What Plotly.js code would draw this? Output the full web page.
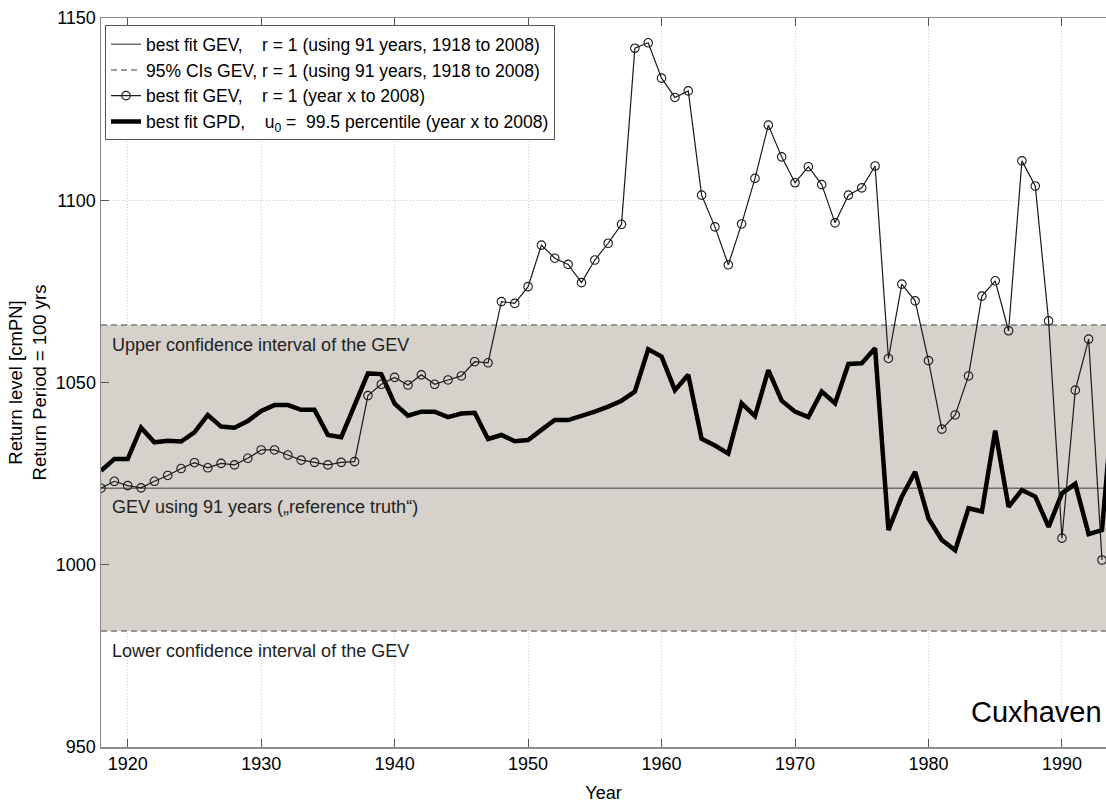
<!DOCTYPE html>
<html>
<head>
<meta charset="utf-8">
<script src="https://cdn.plot.ly/plotly-3.0.1.min.js"></script>
<style>html,body{margin:0;padding:0;background:#fff;}#chart{width:1106px;height:803px;}</style>
</head>
<body>
<div id="chart"></div>
<script>
// Years for the "year x to 2008" GEV fit (circles)
const yearsGEV = [1918,1919,1920,1921,1922,1923,1924,1925,1926,1927,1928,1929,1930,1931,1932,1933,1934,1935,1936,1937,
  1938,1939,1940,1941,1942,1943,1944,1945,1946,1947,1948,1949,1950,1951,1952,1953,1954,1955,1956,1957,
  1958,1959,1960,1961,1962,1963,1964,1965,1966,1967,1968,1969,1970,1971,1972,1973,1974,1975,1976,1977,
  1978,1979,1980,1981,1982,1983,1984,1985,1986,1987,1988,1989,1990,1991,1992,1993];
const gevYearX = [1021.0,1022.9,1021.7,1021.1,1022.9,1024.5,1026.4,1028.0,1026.6,1027.8,1027.4,1029.2,1031.5,1031.5,1030.1,1028.7,1028.1,1027.4,1028.1,1028.3,
  1046.4,1049.5,1051.4,1049.3,1052.1,1049.5,1050.7,1051.8,1055.7,1055.4,1072.2,1071.7,1076.3,1087.7,1084.1,1082.4,1077.4,1083.6,1088.2,1093.4,
  1141.7,1143.2,1133.5,1128.2,1130.0,1101.4,1092.7,1082.3,1093.5,1106.0,1120.6,1111.9,1104.8,1109.2,1104.3,1093.8,1101.4,1103.4,1109.4,1056.6,
  1077.0,1072.4,1056.0,1037.2,1041.1,1051.8,1073.7,1077.9,1064.2,1110.8,1103.9,1066.9,1007.3,1047.9,1061.9,1001.3];

// Years for the GPD fit (thick line)
const yearsGPD = [1918,1919,1920,1921,1922,1923,1924,1925,1926,1927,1928,1929,1930,1931,1932,1933,1934,1935,1936,1937,
  1938,1939,1940,1941,1942,1943,1944,1945,1946,1947,1948,1949,1950,1951,1952,1953,1954,1955,1956,1957,
  1958,1959,1960,1961,1962,1963,1964,1965,1966,1967,1968,1969,1970,1971,1972,1973,1974,1975,1976,1977,
  1978,1979,1980,1981,1982,1983,1984,1985,1986,1987,1988,1989,1990,1991,1992,1993,1994];
const gpdYearX = [1025.8,1029.0,1029.0,1037.6,1033.6,1034.0,1033.8,1036.3,1041.1,1037.9,1037.6,1039.4,1042.2,1043.8,1043.8,1042.5,1042.5,1035.6,1035.0,1043.4,
  1052.5,1052.3,1044.2,1040.9,1042.0,1042.0,1040.5,1041.5,1041.7,1034.5,1035.6,1033.9,1034.2,1037.0,1039.7,1039.7,1040.8,1042.0,1043.4,1045.0,
  1047.5,1059.1,1057.1,1047.9,1052.1,1034.6,1032.7,1030.5,1044.3,1040.8,1053.4,1045.0,1042.0,1040.5,1047.5,1044.3,1055.1,1055.3,1059.4,1009.5,
  1018.7,1025.5,1012.7,1006.8,1004.0,1015.5,1014.6,1036.8,1015.9,1020.5,1018.7,1010.4,1019.6,1022.2,1008.4,1009.5,1052.0];

// GEV using all 91 years (reference truth) and its 95% confidence limits
const gevAll = 1021.0;
const ciUpper = 1065.8;
const ciLower = 981.8;

const xTicks = [1920,1930,1940,1950,1960,1970,1980,1990];
const yTicks = [950,1000,1050,1100,1150];

const legendNames = [
  'best fit GEV,\u00a0\u00a0\u00a0\u00a0r = 1 (using 91 years, 1918 to 2008)',
  '95% CIs GEV, r = 1 (using 91 years, 1918 to 2008)',
  'best fit GEV,\u00a0\u00a0\u00a0\u00a0r = 1 (year x to 2008)',
  'best fit GPD,\u00a0\u00a0\u00a0\u00a0u<sub>0</sub> =\u00a0\u00a099.5 percentile (year x to 2008)'
];

const x0 = yearsGPD[0], x1 = yearsGPD[yearsGPD.length - 1];
const FONT = 'Liberation Sans, Arial, Helvetica, sans-serif';

const traces = [
  { // shaded confidence band
    x: [x0, x1, x1, x0], y: [ciLower, ciLower, ciUpper, ciUpper],
    type: 'scatter', mode: 'lines', fill: 'toself', fillcolor: '#d6d2cb',
    line: {width: 0}, showlegend: false, hoverinfo: 'skip'
  },
  {
    x: [x0, x1], y: [gevAll, gevAll], type: 'scatter', mode: 'lines',
    line: {color: '#6f6f6f', width: 1.5}, name: legendNames[0], legendrank: 1
  },
  {
    x: [x0, x1], y: [ciUpper, ciUpper], type: 'scatter', mode: 'lines',
    line: {color: '#7a7a7a', width: 1.5, dash: '6px,4px'}, name: legendNames[1], legendrank: 2
  },
  {
    x: [x0, x1], y: [ciLower, ciLower], type: 'scatter', mode: 'lines',
    line: {color: '#7a7a7a', width: 1.5, dash: '6px,4px'}, showlegend: false
  },
  {
    x: yearsGPD, y: gpdYearX, type: 'scatter', mode: 'lines',
    line: {color: '#000', width: 4.5}, name: legendNames[3], legendrank: 4
  },
  {
    x: yearsGEV, y: gevYearX, type: 'scatter', mode: 'lines+markers',
    line: {color: '#1a1a1a', width: 1.2},
    marker: {symbol: 'circle-open', size: 8.5, color: '#1a1a1a', line: {width: 1.1}},
    name: legendNames[2], legendrank: 3
  }
];

const layout = {
  width: 1106, height: 803,
  margin: {l: 101, r: 0, t: 18, b: 56},
  paper_bgcolor: '#fff', plot_bgcolor: '#fff',
  font: {family: FONT, size: 18, color: '#000'},
  showlegend: true,
  legend: {
    x: 0.004, y: 0.99, xanchor: 'left', yanchor: 'top',
    bgcolor: '#fff', bordercolor: '#555', borderwidth: 1,
    font: {family: FONT, size: 17.5, color: '#000'},
    traceorder: 'normal', tracegroupgap: 0
  },
  xaxis: {
    range: [1918, 1993.3], tickvals: xTicks, ticks: 'inside', ticklen: 8,
    tickcolor: '#555', showline: true, linecolor: '#8a8a8a', linewidth: 1.5, mirror: 'ticks',
    showgrid: true, gridcolor: '#c8c8c8', griddash: '1px,2px', gridwidth: 1, zeroline: false,
    tickfont: {size: 18}, title: {text: 'Year', font: {size: 18}, standoff: 14}
  },
  yaxis: {
    range: [950, 1150], tickvals: yTicks, ticks: 'inside', ticklen: 8,
    tickcolor: '#555', showline: true, linecolor: '#8a8a8a', linewidth: 1.5, mirror: false,
    showgrid: true, gridcolor: '#c8c8c8', griddash: '1px,2px', gridwidth: 1, zeroline: false,
    tickfont: {size: 18},
    title: {text: 'Return level [cmPN]<br>Return Period = 100 yrs', font: {size: 18.5}, standoff: 4}
  },
  annotations: [
    {text: 'Upper confidence interval of the GEV', xref: 'paper', yref: 'paper', x: 0.009, y: 0.5514,
     xanchor: 'left', yanchor: 'middle', showarrow: false, font: {size: 18, color: '#222'}},
    {text: 'GEV using 91 years (\u201ereference truth\u201c)', xref: 'paper', yref: 'paper', x: 0.009, y: 0.3292,
     xanchor: 'left', yanchor: 'middle', showarrow: false, font: {size: 18, color: '#222'}},
    {text: 'Lower confidence interval of the GEV', xref: 'paper', yref: 'paper', x: 0.009, y: 0.1317,
     xanchor: 'left', yanchor: 'middle', showarrow: false, font: {size: 18, color: '#222'}},
    {text: 'Cuxhaven', xref: 'paper', yref: 'paper', x: 0.998, y: 0.048,
     xanchor: 'right', yanchor: 'middle', showarrow: false, font: {size: 29, color: '#000'}}
  ]
};

Plotly.newPlot('chart', traces, layout, {displayModeBar: false, staticPlot: true});
</script>
</body>
</html>
